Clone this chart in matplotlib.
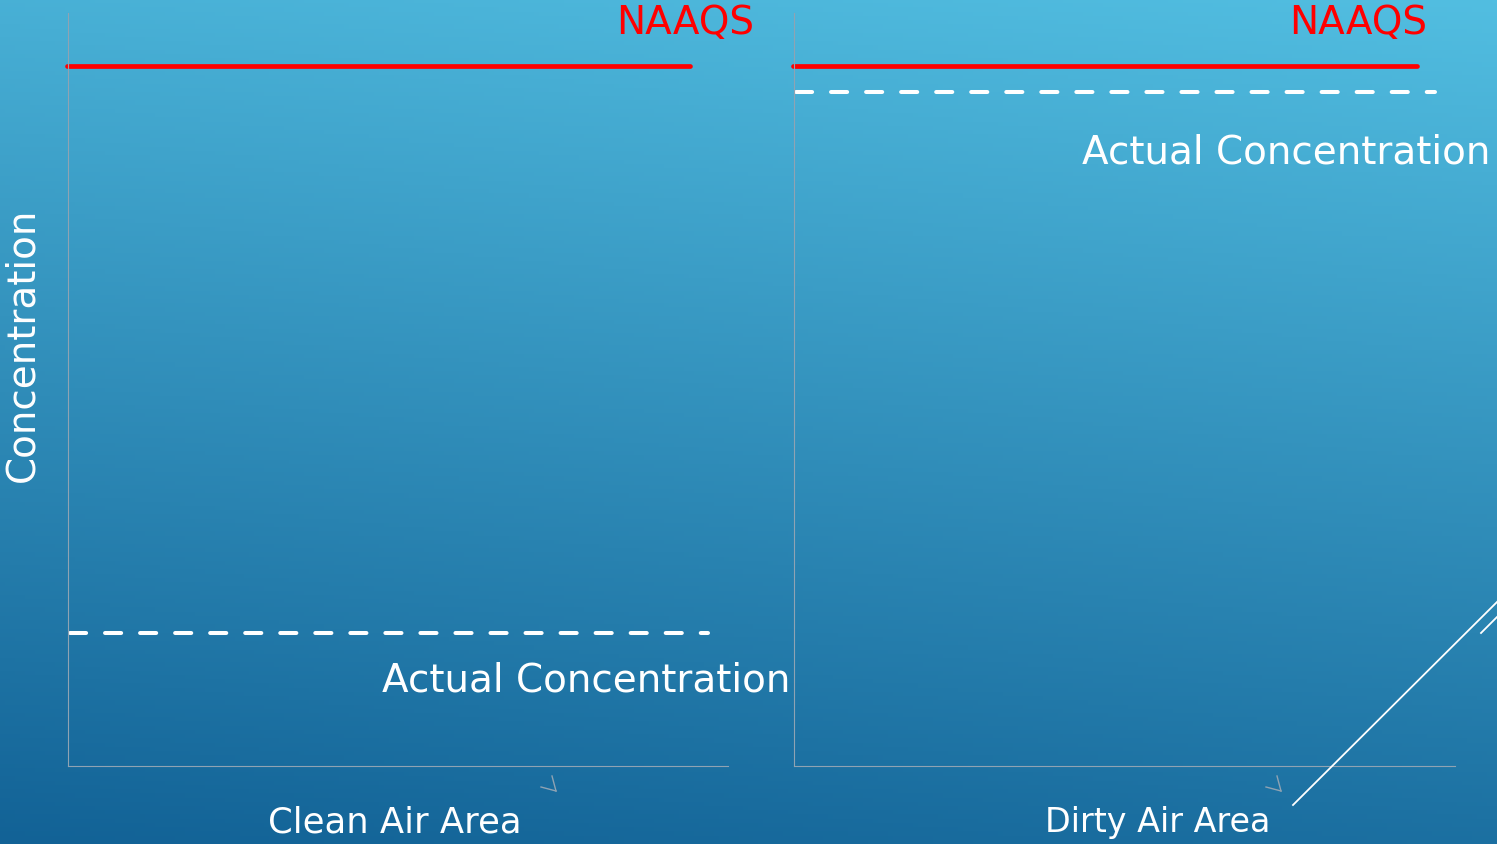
import numpy as np
from matplotlib import pyplot as plt
from matplotlib.lines import Line2D

# values (y axis 0-100, x axis 0-1)
panels = ["Clean Air Area", "Dirty Air Area"]
naaqs_level = [93.0, 93.0]
actual_level = [17.7, 89.5]
naaqs_end = [0.942, 0.943]
actual_end = [0.97, 0.97]
y_label = "Concentration"
naaqs_label = "NAAQS"
actual_label = "Actual Concentration"

W, H = 1497, 845
fig = plt.figure(figsize=(W / 100, H / 100), dpi=100)

# background gradient (light top right -> dark bottom left)
bg = fig.add_axes([0, 0, 1, 1])
yy, xx = np.mgrid[0:1:200j, 0:1:300j]
t = np.clip(0.85 * yy + 0.15 * xx, 0, 1)
top = np.array([82, 190, 225]) / 255
bot = np.array([18, 98, 150]) / 255
img = bot[None, None, :] + (top - bot)[None, None, :] * t[..., None]
bg.imshow(img, extent=[0, 1, 0, 1], origin="lower", aspect="auto")
bg.set_axis_off()
bg.set_zorder(-10)

spine_col = "#8fa3b3"
pos = [[68 / W, 78 / H, 660 / W, 753 / H], [794 / W, 78 / H, 661 / W, 753 / H]]
for i in range(2):
    ax = fig.add_axes(pos[i])
    ax.patch.set_alpha(0)
    ax.set_xlim(0, 1)
    ax.set_ylim(0, 100)
    for s in ["top", "right"]:
        ax.spines[s].set_visible(False)
    for s in ["left", "bottom"]:
        ax.spines[s].set_color(spine_col)
        ax.spines[s].set_linewidth(0.8)
    ax.set_xticks([])
    ax.set_yticks([])
    ax.plot([-0.002, naaqs_end[i]], [naaqs_level[i]] * 2, color="#ff0000", lw=3.4,
            solid_capstyle="round", clip_on=False)
    ax.plot([0.003, actual_end[i]], [actual_level[i]] * 2, color="white", lw=2.9,
            dashes=(4, 4.7), dash_capstyle="round", clip_on=False)

fam = "DejaVu Sans"
fig.text(754 / W, 1 - 23 / H, naaqs_label, color="#ff0000", fontsize=28, family=fam,
         ha="right", va="center")
fig.text(1427 / W, 1 - 23 / H, naaqs_label, color="#ff0000", fontsize=28, family=fam,
         ha="right", va="center")
fig.text(586 / W, 1 - 681 / H, actual_label, color="white", fontsize=28, family=fam,
         ha="center", va="center")
fig.text(1286 / W, 1 - 153 / H, actual_label, color="white", fontsize=28, family=fam,
         ha="center", va="center")
fig.text(395 / W, 1 - 823 / H, panels[0], color="white", fontsize=25.5, family=fam,
         ha="center", va="center")
fig.text(1158 / W, 1 - 823 / H, panels[1], color="white", fontsize=24, family=fam,
         ha="center", va="center")
fig.text(22 / W, 1 - 345 / H, y_label, color="white", fontsize=28, family=fam,
         ha="center", va="center", rotation=90)

# small arrow marks under x axes
for x0 in [541, 1266]:
    fig.add_artist(Line2D([x0 / W, (x0 + 15) / W], [1 - 788 / H, 1 - 792 / H],
                          color=spine_col, lw=1))
    fig.add_artist(Line2D([(x0 + 11) / W, (x0 + 15) / W], [1 - 777 / H, 1 - 792 / H],
                          color=spine_col, lw=1))

# decorative diagonal lines
fig.add_artist(Line2D([1293 / W, 1 + 2 / W], [1 - 806 / H, 1 - 601 / H], color="white", lw=1.3))
fig.add_artist(Line2D([1481 / W, 1 + 2 / W], [1 - 634 / H, 1 - 616 / H], color="white", lw=1.3))

fig.savefig("out.png", dpi=100)
